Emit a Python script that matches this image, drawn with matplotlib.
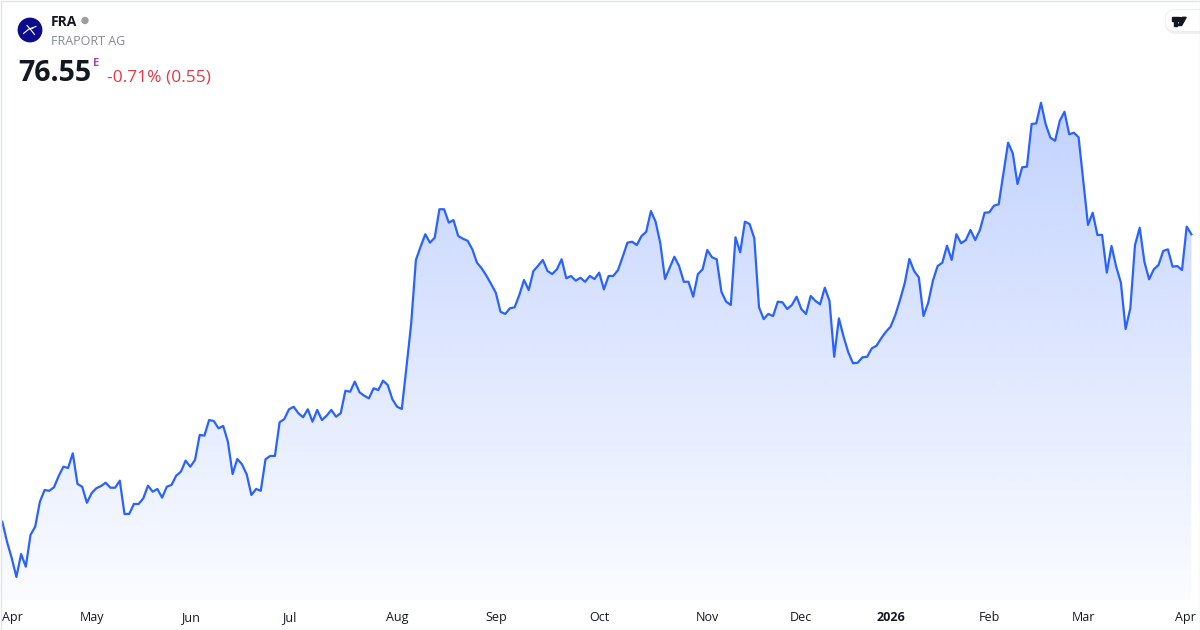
import matplotlib
matplotlib.use('Agg')
import matplotlib.pyplot as plt
import numpy as np
from matplotlib.patches import Circle, FancyBboxPatch, Rectangle, Polygon

# ---------------- data ----------------
prices = [
    55.74, 54.29, 53.11, 51.74, 53.40, 52.48, 54.78, 55.38, 57.19, 58.03,
    57.98, 58.23, 59.05, 59.72, 59.63, 60.69, 58.47, 58.27, 57.11, 57.80,
    58.16, 58.32, 58.56, 58.20, 58.20, 58.71, 56.30, 56.30, 57.02, 57.02,
    57.43, 58.35, 57.91, 58.11, 57.48, 58.27, 58.40, 59.07, 59.36, 60.16,
    59.72, 60.21, 62.02, 61.97, 63.10, 63.03, 62.50, 62.67, 61.53, 59.19,
    60.28, 59.89, 59.17, 57.67, 58.11, 57.98, 60.26, 60.50, 60.50, 62.94,
    63.17, 63.88, 64.06, 63.59, 63.30, 63.88, 62.98, 63.83, 63.10, 63.41,
    63.83, 63.34, 63.59, 65.22, 65.15, 65.88, 65.11, 64.86, 64.67, 65.40,
    65.27, 65.95, 65.64, 64.60, 64.06, 63.90, 66.96, 70.10, 74.69, 75.65,
    76.55, 75.94, 76.30, 78.36, 78.36, 77.39, 77.58, 76.42, 76.23, 76.08,
    75.46, 74.49, 74.08, 73.55, 72.95, 72.32, 70.94, 70.78, 71.19, 71.26,
    72.15, 73.24, 72.51, 73.89, 74.27, 74.69, 73.89, 73.67, 74.01, 74.74,
    73.36, 73.53, 73.19, 73.40, 73.11, 73.53, 73.31, 73.77, 72.56, 73.53,
    73.53, 73.96, 74.92, 75.94, 76.01, 75.77, 76.42, 76.73, 78.23, 77.46,
    75.90, 73.31, 74.13, 74.92, 74.25, 73.11, 73.11, 72.03, 73.67, 74.01,
    75.41, 74.88, 74.74, 72.39, 71.67, 71.43, 76.33, 75.24, 77.46, 77.29,
    76.26, 71.26, 70.41, 70.78, 70.63, 71.67, 71.62, 71.14, 71.43, 72.03,
    71.14, 70.78, 72.08, 71.72, 71.48, 72.68, 71.72, 67.68, 70.46, 69.13,
    68.00, 67.21, 67.25, 67.64, 67.68, 68.29, 68.48, 69.02, 69.49, 69.86,
    70.70, 71.79, 73.00, 74.76, 73.89, 73.43, 70.63, 71.59, 73.19, 74.25,
    74.49, 75.72, 74.69, 76.55, 75.90, 76.13, 76.86, 76.13, 76.86, 78.11,
    78.14, 78.62, 78.72, 80.96, 83.18, 82.41, 80.19, 81.40, 81.44, 84.53,
    84.58, 86.07, 84.51, 83.54, 83.32, 84.77, 85.42, 83.79, 83.90, 83.57,
    80.43, 77.22, 78.11, 76.50, 76.50, 73.77, 75.70, 74.20, 73.04, 69.69,
    71.19, 75.77, 77.02, 74.56, 73.29, 74.01, 74.32, 75.34, 75.46, 74.20,
    74.25, 73.96, 77.10, 76.55,
]
month_labels = ['Apr', 'May', 'Jun', 'Jul', 'Aug', 'Sep', 'Oct', 'Nov',
                'Dec', '2026', 'Feb', 'Mar', 'Apr']
month_idx = [0, 19, 40, 61, 84, 105, 127, 150, 170, 189, 210, 230, 254]
ticker = 'FRA'
company = 'FRAPORT AG'
last_price = '76.55'
change_text = '-0.71% (0.55)'

# ---------------- figure ----------------
W, H = 1200, 630
plt.rcParams['font.family'] = ['Open Sans', 'DejaVu Sans']
fig = plt.figure(figsize=(W / 100, H / 100), dpi=100)
fig.patch.set_facecolor('white')

LINE = '#2962FF'
ax = fig.add_axes([0, 30 / H, 1, 600 / H])
x = np.arange(len(prices))
step, x0 = 4.7, 2.3
ax.set_xlim(-x0 / step, (W - x0) / step)
ax.set_ylim(50.07, 93.51)
ax.axis('off')
ylo, yhi = ax.get_ylim()

# gradient fill under the line
n = 300
alpha = np.linspace(0.34, 0.02, n)
rgba = np.zeros((n, 1, 4))
rgba[..., 0] = 41 / 255
rgba[..., 1] = 98 / 255
rgba[..., 2] = 1.0
rgba[..., 3] = alpha[:, None]
poly = ax.fill_between(x, prices, ylo, facecolor='none', edgecolor='none')
img = ax.imshow(rgba, extent=[x[0], x[-1], ylo, yhi], origin='upper',
                aspect='auto', zorder=1, interpolation='bilinear')
img.set_clip_path(poly.get_paths()[0], transform=ax.transData)
ax.set_xlim(-x0 / step, (W - x0) / step)
ax.set_ylim(ylo, yhi)

ax.plot(x, prices, color=LINE, lw=1.6, solid_joinstyle='round', zorder=3)

# month labels
tr = ax.get_xaxis_transform()
for i, (lab, idx) in enumerate(zip(month_labels, month_idx)):
    ha = 'center'
    if i == 0:
        ha = 'left'
    elif i == len(month_labels) - 1:
        ha = 'right'
    ax.text(idx, -17.5 / 600, lab, transform=tr, ha=ha, va='center',
            fontsize=9, color='#131722',
            fontweight='bold' if lab == '2026' else 'normal', clip_on=False)

# ---------------- overlay (header, logo, border) ----------------
oax = fig.add_axes([0, 0, 1, 1], zorder=5)
oax.set_xlim(0, W)
oax.set_ylim(H, 0)
oax.axis('off')
oax.patch.set_alpha(0)

# company logo
oax.add_patch(Circle((30, 30), 11.7, color='#0b0b8c'))
oax.plot([23.5, 29, 36], [33.5, 29, 26.5], color='white', lw=0.8)
oax.plot([27, 31, 34.5], [25.5, 30, 34.5], color='white', lw=0.8)
oax.plot([29, 33], [29, 28.5], color='white', lw=0.6)

oax.text(51, 26, ticker, fontsize=10, fontweight='bold', color='#131722',
         ha='left', va='baseline')
oax.add_patch(Circle((85, 20.5), 3, color='#9e9e9e'))
oax.text(51, 45, company, fontsize=9, color='#868993', ha='left', va='baseline')
oax.text(18, 81, last_price, fontsize=20.5, fontweight='bold', color='#131722',
         ha='left', va='baseline')
oax.text(92.5, 65.5, 'E', fontsize=8, fontweight='bold', color='#ab47bc',
         ha='left', va='baseline')
oax.text(107, 81.5, change_text, fontsize=12.5, color='#e53945',
         ha='left', va='baseline')

# TradingView badge
oax.add_patch(FancyBboxPatch((1165, 11), 45, 23,
                             boxstyle='round,pad=0,rounding_size=11',
                             fc='#e6e6e6', ec='none', alpha=0.6))
oax.add_patch(FancyBboxPatch((1165, 9.5), 45, 22,
                             boxstyle='round,pad=0,rounding_size=11',
                             fc='white', ec='#ececec', lw=0.6))
oax.add_patch(Polygon([(1171.5, 17.3), (1178.8, 17.3), (1178.8, 20.6), (1171.5, 20.6)],
                      closed=True, color='#131722'))
oax.add_patch(Polygon([(1174.3, 20.6), (1177.2, 20.6), (1177.2, 25.5), (1174.3, 25.5)],
                      closed=True, color='#131722'))
oax.add_patch(Circle((1180.6, 19.0), 1.4, color='#131722'))
oax.add_patch(Polygon([(1182.6, 17.3), (1186.2, 17.3), (1181.6, 25.5), (1178.2, 25.5)],
                      closed=True, color='#131722'))

# outer border
oax.add_patch(Rectangle((0.5, 0.5), W - 1, H - 1, fill=False,
                        ec='#e0e3eb', lw=1))

fig.savefig('out.png', dpi=100, facecolor='white')
